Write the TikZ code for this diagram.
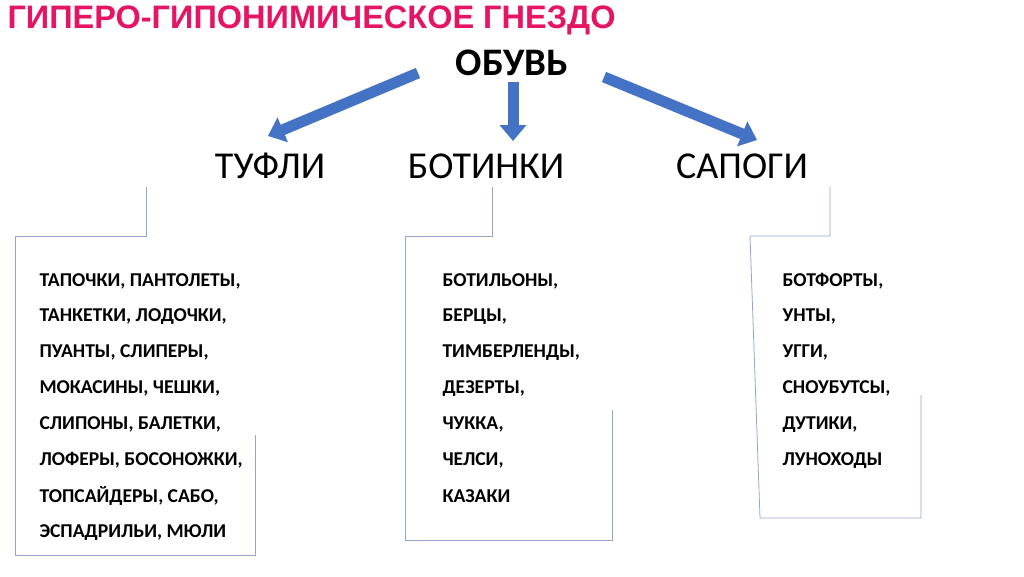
\documentclass[tikz,border=0pt]{standalone}
\usepackage{fontspec}
\setmainfont{Carlito}
\newfontfamily\titlefont{Liberation Sans}
\usetikzlibrary{arrows.meta}
\definecolor{titlered}{RGB}{230,20,100}
\definecolor{arrowblue}{RGB}{68,114,196}
\definecolor{framegray}{RGB}{150,165,205}
\tikzset{
  bigarrow/.style={arrowblue, line width=11pt, -{Triangle[width=26pt,length=16pt]}},
  frameline/.style={framegray, line width=0.8pt},
  kind/.style={font=\fontsize{38}{42}\selectfont},
  item/.style={anchor=west, font=\bfseries\fontsize{19.6}{22}\selectfont}
}
\begin{document}
\begin{tikzpicture}[x=1pt,y=-1pt]
\useasboundingbox (0,0) rectangle (1024,576);

\node[anchor=west, text=titlered, font=\titlefont\bfseries\fontsize{32.5}{36}\selectfont] (title) at (4,20) {ГИПЕРО-ГИПОНИМИЧЕСКОЕ ГНЕЗДО};
\node[font=\bfseries\fontsize{39}{42}\selectfont] (root) at (512,63) {ОБУВЬ};

\node[kind] (tufli) at (270,166) {ТУФЛИ};
\node[kind] (botinki) at (486,166) {БОТИНКИ};
\node[kind] (sapogi) at (742,166) {САПОГИ};

\coordinate (a1s) at (418,73);
\coordinate (a1e) at (268,136);
\coordinate (a2s) at (513,82);
\coordinate (a2e) at (513,141);
\coordinate (a3s) at (604,77);
\coordinate (a3e) at (757,140);
\draw[bigarrow] (a1s) -- (a1e);
\draw[bigarrow] (a2s) -- (a2e);
\draw[bigarrow] (a3s) -- (a3e);

% frames
\draw[frameline] (146,187) -- (146,236) -- (15,236) -- (15,555) -- (255,555) -- (255,435);
\draw[frameline] (492,187) -- (492,236) -- (405,236) -- (405,540) -- (612,540) -- (612,410);
\draw[frameline] (830,187) -- (830,236) -- (750,236) -- (760,518) -- (921,518) -- (921,395);

% lists
\foreach \t [count=\i] in {{ТАПОЧКИ, ПАНТОЛЕТЫ,},{ТАНКЕТКИ, ЛОДОЧКИ,},{ПУАНТЫ, СЛИПЕРЫ,},{МОКАСИНЫ, ЧЕШКИ,},{СЛИПОНЫ, БАЛЕТКИ,},{ЛОФЕРЫ, БОСОНОЖКИ,},{ТОПСАЙДЕРЫ, САБО,},{ЭСПАДРИЛЬИ, МЮЛИ}}
  \node[item] (l\i) at (36,{281+35.9*(\i-1)}) {\t};
\foreach \t [count=\i] in {{БОТИЛЬОНЫ,},{БЕРЦЫ,},{ТИМБЕРЛЕНДЫ,},{ДЕЗЕРТЫ,},{ЧУККА,},{ЧЕЛСИ,},{КАЗАКИ}}
  \node[item] (m\i) at (439,{281+35.9*(\i-1)}) {\t};
\foreach \t [count=\i] in {{БОТФОРТЫ,},{УНТЫ,},{УГГИ,},{СНОУБУТСЫ,},{ДУТИКИ,},{ЛУНОХОДЫ}}
  \node[item] (r\i) at (779,{281+35.9*(\i-1)}) {\t};

\end{tikzpicture}
\end{document}
